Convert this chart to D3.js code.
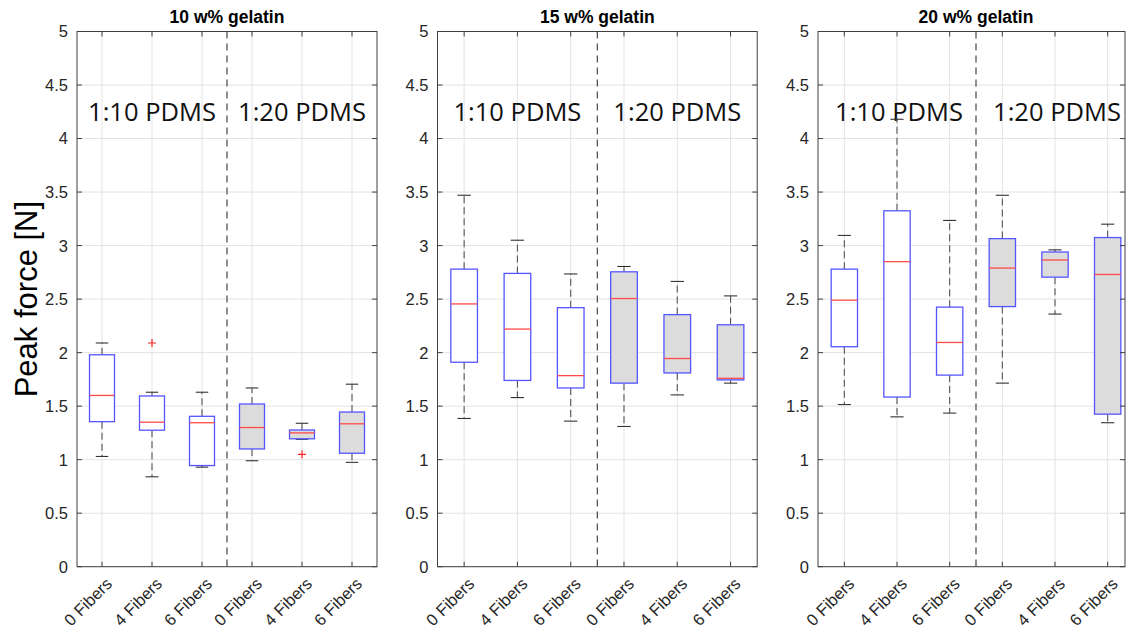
<!DOCTYPE html>
<html>
<head>
<meta charset="utf-8">
<script src="https://cdn.jsdelivr.net/npm/d3@7"></script>
<style>
  html, body { margin: 0; padding: 0; background: #fff; }
  svg { display: block; }
</style>
</head>
<body>
<svg id="chart" width="1126" height="628"></svg>
<script>
// Box-plot statistics per gelatin concentration: [lower whisker, Q1, median, Q3, upper whisker]
const categories = ["0 Fibers", "4 Fibers", "6 Fibers", "0 Fibers", "4 Fibers", "6 Fibers"];
const groupLabels = ["1:10 PDMS", "1:20 PDMS"];
const panelTitles = ["10 w% gelatin", "15 w% gelatin", "20 w% gelatin"];
const yTicks = [0, 0.5, 1, 1.5, 2, 2.5, 3, 3.5, 4, 4.5, 5];

const gel10 = [
  [1.03, 1.355, 1.60, 1.98, 2.09],
  [0.84, 1.275, 1.35, 1.595, 1.63],
  [0.93, 0.945, 1.345, 1.405, 1.63],
  [0.99, 1.10, 1.30, 1.52, 1.67],
  [1.19, 1.195, 1.25, 1.277, 1.34],
  [0.975, 1.06, 1.335, 1.445, 1.705]
];
const gel15 = [
  [1.385, 1.91, 2.455, 2.78, 3.47],
  [1.58, 1.74, 2.22, 2.74, 3.05],
  [1.36, 1.67, 1.785, 2.42, 2.735],
  [1.31, 1.715, 2.505, 2.755, 2.805],
  [1.605, 1.81, 1.945, 2.355, 2.665],
  [1.715, 1.745, 1.76, 2.26, 2.53]
];
const gel20 = [
  [1.515, 2.055, 2.49, 2.78, 3.095],
  [1.40, 1.585, 2.85, 3.325, 4.18],
  [1.435, 1.79, 2.095, 2.425, 3.235],
  [1.715, 2.43, 2.79, 3.065, 3.47],
  [2.36, 2.705, 2.865, 2.94, 2.96],
  [1.345, 1.425, 2.73, 3.075, 3.20]
];
// Outlying observations: [category index, value]
const outliers10 = [[1, 2.09], [4, 1.05]];
const outliers15 = [];
const outliers20 = [];

const panelData = [gel10, gel15, gel20];
const panelOutliers = [outliers10, outliers15, outliers20];

// Axes rectangles (left, right) in page pixels; the third one runs past the page edge
const panelX = [[77, 377], [437.5, 757.2], [818, 1134]];
const plotTop = 31.5, plotBottom = 566.7;
const pageRight = 1125;

const svg = d3.select("#chart");
const axisColor = "#404040";
const gridColor = "#e3e3e3";
const tickFont = "'Liberation Sans', Arial, sans-serif";
const tickSize = 16.5;

const y = d3.scaleLinear().domain([0, 5]).range([plotBottom, plotTop]);

panelData.forEach((stats, p) => {
  const [x0, x1] = panelX[p];
  const xr = Math.min(x1, pageRight);
  const x = d3.scaleLinear().domain([0.5, 6.5]).range([x0, x1]);
  const step = x(2) - x(1);
  const g = svg.append("g");

  // grid lines
  g.selectAll(".hgrid").data(yTicks).join("line")
    .attr("x1", x0).attr("x2", xr)
    .attr("y1", d => y(d)).attr("y2", d => y(d))
    .attr("stroke", gridColor).attr("stroke-width", 1);
  g.selectAll(".vgrid").data(categories).join("line")
    .attr("x1", (d, i) => x(i + 1)).attr("x2", (d, i) => x(i + 1))
    .attr("y1", plotTop).attr("y2", plotBottom)
    .attr("stroke", gridColor).attr("stroke-width", 1);

  // separator between PDMS mixing ratios
  g.append("line")
    .attr("x1", x(3.5)).attr("x2", x(3.5))
    .attr("y1", plotTop).attr("y2", plotBottom)
    .attr("stroke", "#555").attr("stroke-width", 1.3)
    .attr("stroke-dasharray", "7,5");

  // group annotations
  [2, 5].forEach((c, k) => {
    g.append("text")
      .attr("x", p === 2 ? x(c) + 2 : x(c))
      .attr("y", 121)
      .attr("text-anchor", "middle")
      .attr("font-family", "'Open Sans', 'Noto Sans', sans-serif")
      .attr("font-size", 25.5)
      .attr("fill", "#111")
      .text(groupLabels[k]);
  });

  // boxes
  const boxW = step * 0.5, capW = step * 0.25;
  const boxes = g.selectAll(".box").data(stats).join("g");
  boxes.append("line") // upper whisker
    .attr("x1", (d, i) => x(i + 1)).attr("x2", (d, i) => x(i + 1))
    .attr("y1", d => y(d[3])).attr("y2", d => y(d[4]))
    .attr("stroke", "#555").attr("stroke-width", 1.1).attr("stroke-dasharray", "7,4");
  boxes.append("line") // lower whisker
    .attr("x1", (d, i) => x(i + 1)).attr("x2", (d, i) => x(i + 1))
    .attr("y1", d => y(d[1])).attr("y2", d => y(d[0]))
    .attr("stroke", "#555").attr("stroke-width", 1.1).attr("stroke-dasharray", "7,4");
  boxes.append("line") // upper cap
    .attr("x1", (d, i) => x(i + 1) - capW / 2).attr("x2", (d, i) => x(i + 1) + capW / 2)
    .attr("y1", d => y(d[4])).attr("y2", d => y(d[4]))
    .attr("stroke", "#333").attr("stroke-width", 1.1);
  boxes.append("line") // lower cap
    .attr("x1", (d, i) => x(i + 1) - capW / 2).attr("x2", (d, i) => x(i + 1) + capW / 2)
    .attr("y1", d => y(d[0])).attr("y2", d => y(d[0]))
    .attr("stroke", "#333").attr("stroke-width", 1.1);
  boxes.append("rect")
    .attr("x", (d, i) => x(i + 1) - boxW / 2)
    .attr("width", boxW)
    .attr("y", d => y(d[3]))
    .attr("height", d => y(d[1]) - y(d[3]))
    .attr("fill", (d, i) => i < 3 ? "#ffffff" : "#dcdcdc")
    .attr("stroke", "#5555ff").attr("stroke-width", 1.3);
  boxes.append("line") // median
    .attr("x1", (d, i) => x(i + 1) - boxW / 2).attr("x2", (d, i) => x(i + 1) + boxW / 2)
    .attr("y1", d => y(d[2])).attr("y2", d => y(d[2]))
    .attr("stroke", "#ff4a4a").attr("stroke-width", 1.3);

  // outliers
  g.selectAll(".out").data(panelOutliers[p]).join("path")
    .attr("d", d => {
      const cx = x(d[0] + 1), cy = y(d[1]), r = 4;
      return `M${cx - r},${cy}H${cx + r}M${cx},${cy - r}V${cy + r}`;
    })
    .attr("stroke", "#ff2020").attr("stroke-width", 1.2);

  // axes frame
  g.append("rect")
    .attr("x", x0).attr("y", plotTop)
    .attr("width", xr - x0).attr("height", plotBottom - plotTop)
    .attr("fill", "none").attr("stroke", axisColor).attr("stroke-width", 1);

  // tick marks on all four sides
  const tl = 5;
  yTicks.forEach(t => {
    g.append("line").attr("x1", x0).attr("x2", x0 + tl).attr("y1", y(t)).attr("y2", y(t)).attr("stroke", axisColor);
    g.append("line").attr("x1", xr - tl).attr("x2", xr).attr("y1", y(t)).attr("y2", y(t)).attr("stroke", axisColor);
  });
  categories.forEach((c, i) => {
    g.append("line").attr("x1", x(i + 1)).attr("x2", x(i + 1)).attr("y1", plotBottom).attr("y2", plotBottom - tl).attr("stroke", axisColor);
    g.append("line").attr("x1", x(i + 1)).attr("x2", x(i + 1)).attr("y1", plotTop).attr("y2", plotTop + tl).attr("stroke", axisColor);
  });

  // y tick labels
  g.selectAll(".ylab").data(yTicks).join("text")
    .attr("x", x0 - 9).attr("y", d => y(d))
    .attr("dy", "0.36em")
    .attr("text-anchor", "end")
    .attr("font-family", tickFont).attr("font-size", tickSize)
    .attr("fill", "#262626")
    .text(d => d3.format("~g")(d));

  // x tick labels, rotated
  g.selectAll(".xlab").data(categories).join("text")
    .attr("transform", (d, i) => `translate(${x(i + 1) + 7},${plotBottom + 14}) rotate(-45)`)
    .attr("text-anchor", "end")
    .attr("dy", "0.35em")
    .attr("font-family", tickFont).attr("font-size", tickSize)
    .attr("fill", "#262626")
    .text(d => d);

  // title
  g.append("text")
    .attr("x", (x0 + x1) / 2)
    .attr("y", 23)
    .attr("text-anchor", "middle")
    .attr("font-family", tickFont).attr("font-weight", "bold").attr("font-size", 17.5)
    .attr("fill", "#000")
    .text(panelTitles[p]);
});

// shared y-axis label
svg.append("text")
  .attr("transform", `translate(37,${(plotTop + plotBottom) / 2}) rotate(-90)`)
  .attr("text-anchor", "middle")
  .attr("font-family", tickFont).attr("font-size", 31)
  .attr("fill", "#000")
  .text("Peak force [N]");
</script>
</body>
</html>
